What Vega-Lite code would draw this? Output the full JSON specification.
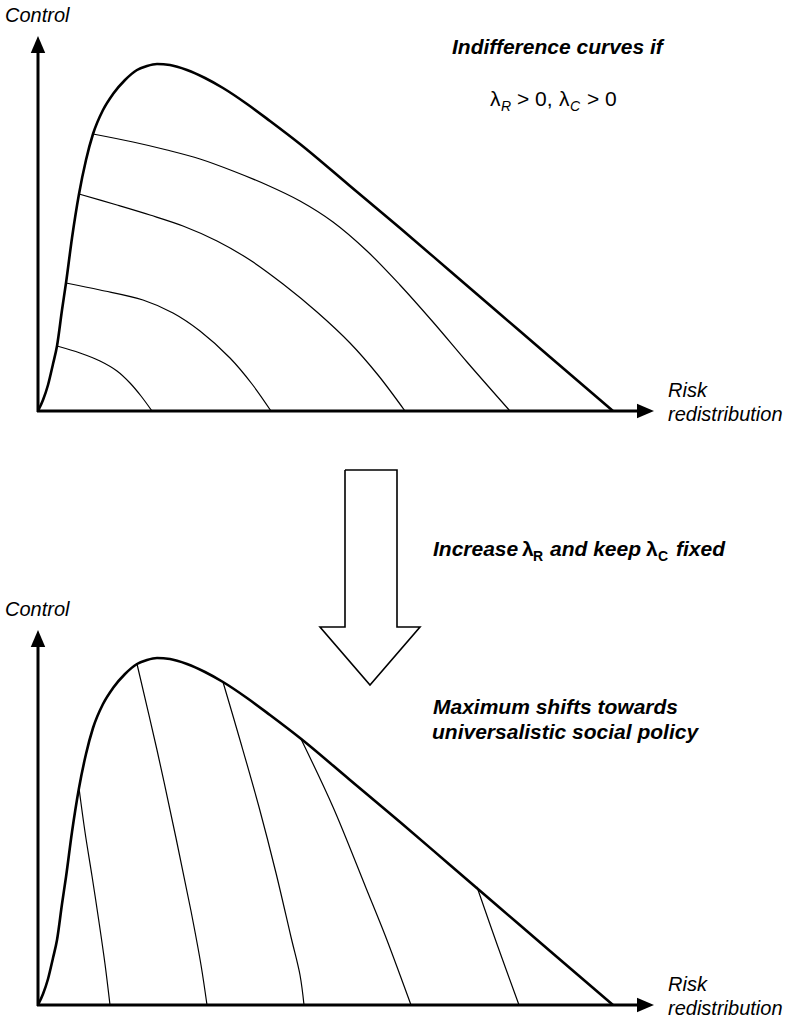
{
  "$schema": "https://vega.github.io/schema/vega-lite/v6.json",
  "width": 795,
  "height": 1028,
  "autosize": {"type": "fit", "contains": "padding"},
  "padding": 0,
  "background": "white",
  "config": {"view": {"stroke": null}},
  "datasets": {
    "frontier": [
      {"id": "top", "i": 0, "x": 38, "y": 411}, {"id": "top", "i": 1, "x": 43, "y": 400}, {"id": "top", "i": 2, "x": 48, "y": 385}, {"id": "top", "i": 3, "x": 53, "y": 364}, {"id": "top", "i": 4, "x": 57, "y": 346}, {"id": "top", "i": 5, "x": 62, "y": 310}, {"id": "top", "i": 6, "x": 66, "y": 283}, {"id": "top", "i": 7, "x": 72, "y": 238}, {"id": "top", "i": 8, "x": 79, "y": 194}, {"id": "top", "i": 9, "x": 86, "y": 160}, {"id": "top", "i": 10, "x": 93, "y": 134}, {"id": "top", "i": 11, "x": 103, "y": 110}, {"id": "top", "i": 12, "x": 113, "y": 94}, {"id": "top", "i": 13, "x": 125, "y": 80}, {"id": "top", "i": 14, "x": 137, "y": 70}, {"id": "top", "i": 15, "x": 147, "y": 66}, {"id": "top", "i": 16, "x": 157, "y": 64}, {"id": "top", "i": 17, "x": 170, "y": 65}, {"id": "top", "i": 18, "x": 187, "y": 70}, {"id": "top", "i": 19, "x": 205, "y": 78}, {"id": "top", "i": 20, "x": 223, "y": 88}, {"id": "top", "i": 21, "x": 247, "y": 104}, {"id": "top", "i": 22, "x": 270, "y": 121}, {"id": "top", "i": 23, "x": 300, "y": 144}, {"id": "top", "i": 24, "x": 350, "y": 186}, {"id": "top", "i": 25, "x": 400, "y": 228}, {"id": "top", "i": 26, "x": 450, "y": 271}, {"id": "top", "i": 27, "x": 500, "y": 314}, {"id": "top", "i": 28, "x": 550, "y": 357}, {"id": "top", "i": 29, "x": 613, "y": 411},
      {"id": "bottom", "i": 0, "x": 38, "y": 1005}, {"id": "bottom", "i": 1, "x": 43, "y": 994}, {"id": "bottom", "i": 2, "x": 48, "y": 979}, {"id": "bottom", "i": 3, "x": 53, "y": 958}, {"id": "bottom", "i": 4, "x": 57, "y": 940}, {"id": "bottom", "i": 5, "x": 62, "y": 904}, {"id": "bottom", "i": 6, "x": 66, "y": 877}, {"id": "bottom", "i": 7, "x": 72, "y": 832}, {"id": "bottom", "i": 8, "x": 79, "y": 788}, {"id": "bottom", "i": 9, "x": 86, "y": 754}, {"id": "bottom", "i": 10, "x": 93, "y": 728}, {"id": "bottom", "i": 11, "x": 103, "y": 704}, {"id": "bottom", "i": 12, "x": 113, "y": 688}, {"id": "bottom", "i": 13, "x": 125, "y": 674}, {"id": "bottom", "i": 14, "x": 137, "y": 664}, {"id": "bottom", "i": 15, "x": 147, "y": 660}, {"id": "bottom", "i": 16, "x": 157, "y": 658}, {"id": "bottom", "i": 17, "x": 170, "y": 659}, {"id": "bottom", "i": 18, "x": 187, "y": 664}, {"id": "bottom", "i": 19, "x": 205, "y": 672}, {"id": "bottom", "i": 20, "x": 223, "y": 682}, {"id": "bottom", "i": 21, "x": 247, "y": 698}, {"id": "bottom", "i": 22, "x": 270, "y": 715}, {"id": "bottom", "i": 23, "x": 300, "y": 738}, {"id": "bottom", "i": 24, "x": 350, "y": 780}, {"id": "bottom", "i": 25, "x": 400, "y": 822}, {"id": "bottom", "i": 26, "x": 450, "y": 865}, {"id": "bottom", "i": 27, "x": 500, "y": 908}, {"id": "bottom", "i": 28, "x": 550, "y": 951}, {"id": "bottom", "i": 29, "x": 613, "y": 1005}
    ],
    "indifference": [
      {"id": "t1", "i": 0, "x": 57, "y": 346}, {"id": "t1", "i": 1, "x": 80, "y": 353}, {"id": "t1", "i": 2, "x": 100, "y": 361}, {"id": "t1", "i": 3, "x": 117, "y": 371}, {"id": "t1", "i": 4, "x": 130, "y": 383}, {"id": "t1", "i": 5, "x": 141, "y": 396}, {"id": "t1", "i": 6, "x": 152, "y": 411},
      {"id": "t2", "i": 0, "x": 66, "y": 283}, {"id": "t2", "i": 1, "x": 100, "y": 290}, {"id": "t2", "i": 2, "x": 143, "y": 300}, {"id": "t2", "i": 3, "x": 173, "y": 313}, {"id": "t2", "i": 4, "x": 200, "y": 331}, {"id": "t2", "i": 5, "x": 230, "y": 358}, {"id": "t2", "i": 6, "x": 252, "y": 384}, {"id": "t2", "i": 7, "x": 271, "y": 411},
      {"id": "t3", "i": 0, "x": 79, "y": 194}, {"id": "t3", "i": 1, "x": 117, "y": 205}, {"id": "t3", "i": 2, "x": 150, "y": 215}, {"id": "t3", "i": 3, "x": 183, "y": 226}, {"id": "t3", "i": 4, "x": 217, "y": 241}, {"id": "t3", "i": 5, "x": 250, "y": 260}, {"id": "t3", "i": 6, "x": 283, "y": 284}, {"id": "t3", "i": 7, "x": 317, "y": 312}, {"id": "t3", "i": 8, "x": 350, "y": 343}, {"id": "t3", "i": 9, "x": 378, "y": 375}, {"id": "t3", "i": 10, "x": 405, "y": 411},
      {"id": "t4", "i": 0, "x": 93, "y": 134}, {"id": "t4", "i": 1, "x": 133, "y": 142}, {"id": "t4", "i": 2, "x": 167, "y": 150}, {"id": "t4", "i": 3, "x": 200, "y": 159}, {"id": "t4", "i": 4, "x": 233, "y": 171}, {"id": "t4", "i": 5, "x": 267, "y": 185}, {"id": "t4", "i": 6, "x": 300, "y": 201}, {"id": "t4", "i": 7, "x": 333, "y": 222}, {"id": "t4", "i": 8, "x": 367, "y": 251}, {"id": "t4", "i": 9, "x": 400, "y": 285}, {"id": "t4", "i": 10, "x": 433, "y": 322}, {"id": "t4", "i": 11, "x": 467, "y": 362}, {"id": "t4", "i": 12, "x": 510, "y": 411},
      {"id": "b1", "i": 0, "x": 79, "y": 788}, {"id": "b1", "i": 1, "x": 85, "y": 832}, {"id": "b1", "i": 2, "x": 92, "y": 876}, {"id": "b1", "i": 3, "x": 99, "y": 922}, {"id": "b1", "i": 4, "x": 105, "y": 964}, {"id": "b1", "i": 5, "x": 110, "y": 1005},
      {"id": "b2", "i": 0, "x": 137, "y": 664}, {"id": "b2", "i": 1, "x": 157, "y": 750}, {"id": "b2", "i": 2, "x": 176, "y": 838}, {"id": "b2", "i": 3, "x": 191, "y": 911}, {"id": "b2", "i": 4, "x": 201, "y": 965}, {"id": "b2", "i": 5, "x": 207, "y": 1005},
      {"id": "b3", "i": 0, "x": 223, "y": 682}, {"id": "b3", "i": 1, "x": 240, "y": 740}, {"id": "b3", "i": 2, "x": 259, "y": 807}, {"id": "b3", "i": 3, "x": 276, "y": 873}, {"id": "b3", "i": 4, "x": 291, "y": 937}, {"id": "b3", "i": 5, "x": 300, "y": 975}, {"id": "b3", "i": 6, "x": 304, "y": 1005},
      {"id": "b4", "i": 0, "x": 301, "y": 739}, {"id": "b4", "i": 1, "x": 333, "y": 807}, {"id": "b4", "i": 2, "x": 366, "y": 888}, {"id": "b4", "i": 3, "x": 385, "y": 935}, {"id": "b4", "i": 4, "x": 400, "y": 975}, {"id": "b4", "i": 5, "x": 411, "y": 1005},
      {"id": "b5", "i": 0, "x": 477, "y": 887}, {"id": "b5", "i": 1, "x": 498, "y": 947}, {"id": "b5", "i": 2, "x": 519, "y": 1005}
    ],
    "axes": [
      {"id": "ty", "i": 0, "x": 38, "y": 412}, {"id": "ty", "i": 1, "x": 38, "y": 48},
      {"id": "tx", "i": 0, "x": 37, "y": 411}, {"id": "tx", "i": 1, "x": 642, "y": 411},
      {"id": "by", "i": 0, "x": 38, "y": 1006}, {"id": "by", "i": 1, "x": 38, "y": 642},
      {"id": "bx", "i": 0, "x": 37, "y": 1005}, {"id": "bx", "i": 1, "x": 642, "y": 1005}
    ],
    "headsUp": [{"x": 38, "y": 44.5}, {"x": 38, "y": 638.5}],
    "headsRight": [{"x": 645.5, "y": 411}, {"x": 645.5, "y": 1005}],
    "bigArrow": [
      {"i": 0, "x": 345, "y": 470}, {"i": 1, "x": 397, "y": 470}, {"i": 2, "x": 397, "y": 627}, {"i": 3, "x": 420, "y": 627}, {"i": 4, "x": 370, "y": 685}, {"i": 5, "x": 320, "y": 627}, {"i": 6, "x": 345, "y": 627}, {"i": 7, "x": 345, "y": 470}
    ],
    "italicLabels": [
      {"x": 5, "y": 22, "t": "Control"}, {"x": 668, "y": 397, "t": "Risk"}, {"x": 668, "y": 421, "t": "redistribution"},
      {"x": 5, "y": 616, "t": "Control"}, {"x": 668, "y": 991, "t": "Risk"}, {"x": 668, "y": 1015, "t": "redistribution"}
    ],
    "boldItalic": [
      {"x": 452, "y": 54, "t": "Indifference curves if"},
      {"x": 433, "y": 556, "t": "Increase"},
      {"x": 550, "y": 556, "t": "and keep"},
      {"x": 676, "y": 556, "t": "fixed"},
      {"x": 433, "y": 714, "t": "Maximum shifts towards"},
      {"x": 432, "y": 739, "t": "universalistic social policy"}
    ],
    "regular": [
      {"x": 490, "y": 106, "t": "λ"}, {"x": 517, "y": 106, "t": "> 0,"}, {"x": 559, "y": 106, "t": "λ"}, {"x": 587, "y": 106, "t": "> 0"}
    ],
    "subItalic": [
      {"x": 501, "y": 111, "t": "R"}, {"x": 570, "y": 111, "t": "C"}
    ],
    "boldLambda": [
      {"x": 522, "y": 556, "t": "λ"}, {"x": 646, "y": 556, "t": "λ"}
    ],
    "subBold": [
      {"x": 533, "y": 561, "t": "R"}, {"x": 658, "y": 561, "t": "C"}
    ]
  },
  "encoding": {
    "x": {"field": "x", "type": "quantitative", "scale": {"domain": [0, 795], "nice": false, "zero": false}, "axis": null},
    "y": {"field": "y", "type": "quantitative", "scale": {"domain": [0, 1028], "nice": false, "zero": false, "reverse": true}, "axis": null}
  },
  "layer": [
    {
      "data": {"name": "indifference"},
      "mark": {"type": "line", "interpolate": "catmull-rom", "stroke": "black", "strokeWidth": 1.2},
      "encoding": {"detail": {"field": "id"}, "order": {"field": "i", "type": "quantitative"}}
    },
    {
      "data": {"name": "frontier"},
      "mark": {"type": "line", "interpolate": "monotone", "stroke": "black", "strokeWidth": 2.6},
      "encoding": {"detail": {"field": "id"}, "order": {"field": "i", "type": "quantitative"}}
    },
    {
      "data": {"name": "axes"},
      "mark": {"type": "line", "interpolate": "linear", "stroke": "black", "strokeWidth": 3},
      "encoding": {"detail": {"field": "id"}, "order": {"field": "i", "type": "quantitative"}}
    },
    {
      "data": {"name": "headsUp"},
      "mark": {"type": "point", "filled": true, "shape": "M0,-1L0.85,1L-0.85,1Z", "size": 289, "color": "black", "opacity": 1}
    },
    {
      "data": {"name": "headsRight"},
      "mark": {"type": "point", "filled": true, "shape": "M1,0L-1,0.85L-1,-0.85Z", "size": 289, "color": "black", "opacity": 1}
    },
    {
      "data": {"name": "bigArrow"},
      "mark": {"type": "line", "interpolate": "linear", "stroke": "black", "strokeWidth": 1.6, "strokeJoin": "miter"},
      "encoding": {"order": {"field": "i", "type": "quantitative"}}
    },
    {
      "data": {"name": "italicLabels"},
      "mark": {"type": "text", "align": "left", "baseline": "alphabetic", "font": "Liberation Sans", "fontSize": 20, "fontStyle": "italic", "color": "black"},
      "encoding": {"text": {"field": "t"}}
    },
    {
      "data": {"name": "boldItalic"},
      "mark": {"type": "text", "align": "left", "baseline": "alphabetic", "font": "Liberation Sans", "fontSize": 21, "fontStyle": "italic", "fontWeight": "bold", "color": "black"},
      "encoding": {"text": {"field": "t"}}
    },
    {
      "data": {"name": "regular"},
      "mark": {"type": "text", "align": "left", "baseline": "alphabetic", "font": "Liberation Sans", "fontSize": 21, "color": "black"},
      "encoding": {"text": {"field": "t"}}
    },
    {
      "data": {"name": "subItalic"},
      "mark": {"type": "text", "align": "left", "baseline": "alphabetic", "font": "Liberation Sans", "fontSize": 14, "fontStyle": "italic", "color": "black"},
      "encoding": {"text": {"field": "t"}}
    },
    {
      "data": {"name": "boldLambda"},
      "mark": {"type": "text", "align": "left", "baseline": "alphabetic", "font": "Liberation Sans", "fontSize": 21, "fontWeight": "bold", "color": "black"},
      "encoding": {"text": {"field": "t"}}
    },
    {
      "data": {"name": "subBold"},
      "mark": {"type": "text", "align": "left", "baseline": "alphabetic", "font": "Liberation Sans", "fontSize": 14, "fontWeight": "bold", "color": "black"},
      "encoding": {"text": {"field": "t"}}
    }
  ]
}
